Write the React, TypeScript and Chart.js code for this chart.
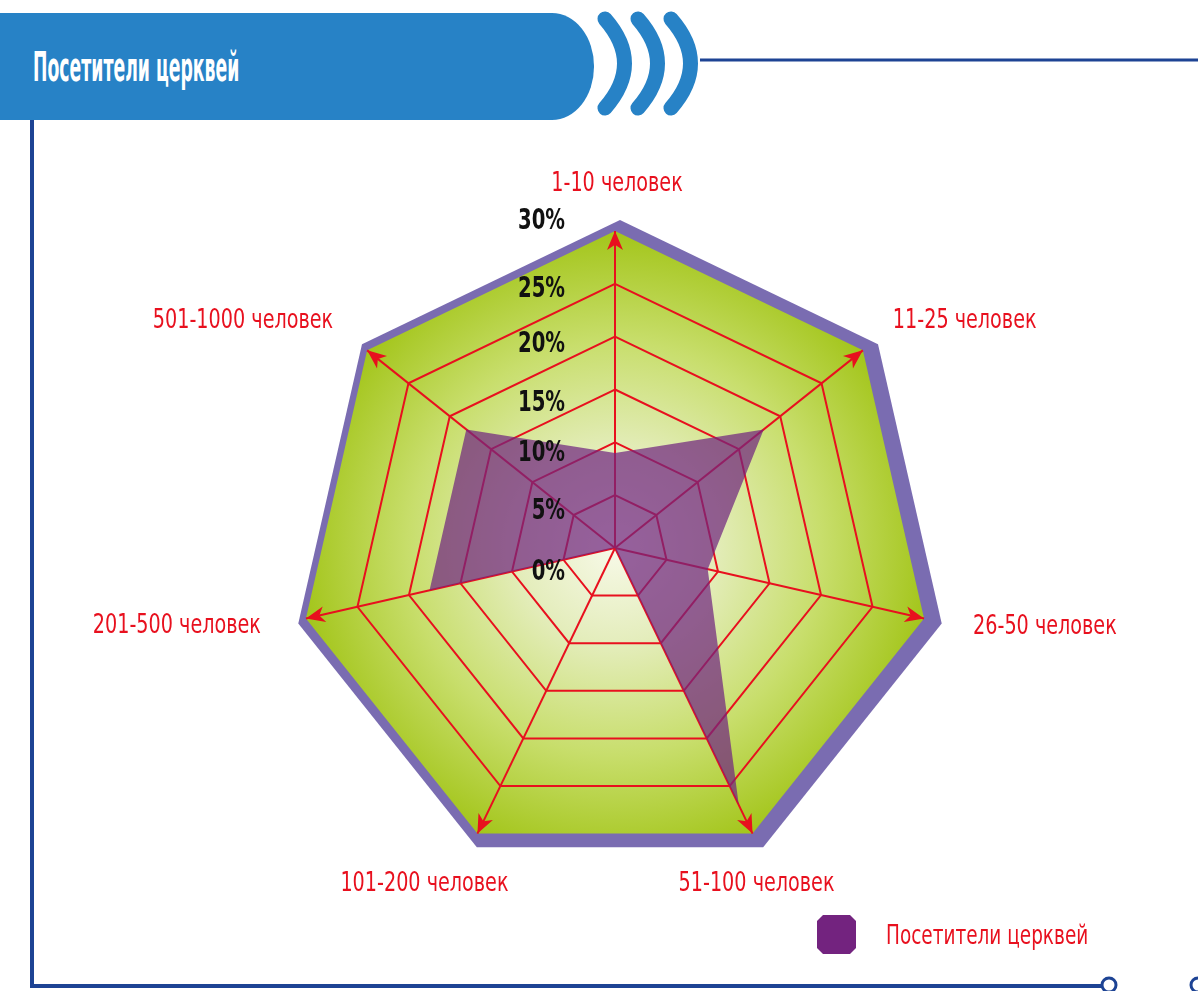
import React, { useEffect, useRef } from "react";
import { Chart, registerables } from "chart.js";

Chart.register(...registerables);

// ---- data ----
const TITLE = "Посетители церквей";
const SERIES_NAME = "Посетители церквей";
const CATEGORIES = [
  "1-10 человек",
  "11-25 человек",
  "26-50 человек",
  "51-100 человек",
  "101-200 человек",
  "201-500 человек",
  "501-1000 человек",
];
const VISITORS = [9, 18, 9, 27, 0, 18, 18];
const TICK_VALUES = [0, 5, 10, 15, 20, 25, 30];
const TICK_LABELS = ["0%", "5%", "10%", "15%", "20%", "25%", "30%"];

// ---- layout / style constants ----
const W = 1198;
const H = 991;
const RED = "#e8101e";
const NARROW = "'Liberation Sans Narrow', 'DejaVu Sans Condensed', sans-serif";
const SQUEEZE = 0.79;
// label placement relative to each axis tip
const LABEL_LAYOUT: { align: CanvasTextAlign; dx: number; dy: number }[] = [
  { align: "center", dx: 2, dy: -47 },
  { align: "left", dx: 30, dy: -29 },
  { align: "left", dx: 49, dy: 8 },
  { align: "center", dx: 4, dy: 50 },
  { align: "center", dx: -53, dy: 50 },
  { align: "right", dx: -45, dy: 7 },
  { align: "right", dx: -34, dy: -29 },
];
const TICK_DY = [25, 17, 11, 14, 8, 6, -9];

function heptagon(ctx: CanvasRenderingContext2D, scale: any, r: number, ox = 0, oy = 0) {
  ctx.beginPath();
  for (let i = 0; i < CATEGORIES.length; i++) {
    const p = scale.getPointPosition(i, r);
    if (i === 0) ctx.moveTo(p.x + ox, p.y + oy);
    else ctx.lineTo(p.x + ox, p.y + oy);
  }
  ctx.closePath();
}

function squeezedText(ctx: CanvasRenderingContext2D, text: string, x: number, y: number, sx: number) {
  ctx.save();
  ctx.translate(x, y);
  ctx.scale(sx, 1);
  ctx.fillText(text, 0, 0);
  ctx.restore();
}

const decorPlugin = {
  id: "radarDecor",
  beforeDraw(chart: any) {
    const scale = chart.scales.r;
    const ctx: CanvasRenderingContext2D = chart.ctx;
    const R = scale.getDistanceFromCenterForValue(30);
    const cx = scale.xCenter;
    const cy = scale.yCenter;
    ctx.save();
    heptagon(ctx, scale, R + 13, 5, 2);
    ctx.fillStyle = "#7a6cb1";
    ctx.fill();
    const g = ctx.createRadialGradient(cx, cy, 0, cx, cy, R);
    g.addColorStop(0, "#f7f9e8");
    g.addColorStop(0.3, "#e4edbc");
    g.addColorStop(0.65, "#c8de6c");
    g.addColorStop(1, "#a3c51a");
    heptagon(ctx, scale, R);
    ctx.fillStyle = g;
    ctx.fill();
    ctx.restore();
  },
  beforeDatasetsDraw(chart: any) {
    const scale = chart.scales.r;
    const ctx: CanvasRenderingContext2D = chart.ctx;
    const R = scale.getDistanceFromCenterForValue(30);
    const cx = scale.xCenter;
    const cy = scale.yCenter;
    ctx.save();
    ctx.fillStyle = RED;
    for (let i = 0; i < CATEGORIES.length; i++) {
      const t = scale.getPointPosition(i, R);
      const ux = (t.x - cx) / R;
      const uy = (t.y - cy) / R;
      const nx = -uy;
      const ny = ux;
      const L = 19;
      const w = 8;
      ctx.beginPath();
      ctx.moveTo(t.x, t.y);
      ctx.lineTo(t.x - ux * L + nx * w, t.y - uy * L + ny * w);
      ctx.lineTo(t.x - ux * L * 0.72, t.y - uy * L * 0.72);
      ctx.lineTo(t.x - ux * L - nx * w, t.y - uy * L - ny * w);
      ctx.closePath();
      ctx.fill();
    }
    ctx.restore();
  },
  afterDatasetsDraw(chart: any) {
    const scale = chart.scales.r;
    const ctx: CanvasRenderingContext2D = chart.ctx;
    const R = scale.getDistanceFromCenterForValue(30);
    const cx = scale.xCenter;
    ctx.save();
    ctx.fillStyle = "#111111";
    ctx.font = `bold 28px ${NARROW}`;
    ctx.textAlign = "right";
    ctx.textBaseline = "middle";
    TICK_VALUES.forEach((v, k) => {
      const p = scale.getPointPosition(0, scale.getDistanceFromCenterForValue(v));
      squeezedText(ctx, TICK_LABELS[k], cx - 50, p.y + TICK_DY[k], 0.78);
    });
    ctx.fillStyle = RED;
    ctx.font = `27px ${NARROW}`;
    CATEGORIES.forEach((c, i) => {
      const t = scale.getPointPosition(i, R);
      const l = LABEL_LAYOUT[i];
      ctx.textAlign = l.align;
      squeezedText(ctx, c, t.x + l.dx, t.y + l.dy, SQUEEZE);
    });
    ctx.restore();
  },
};

function RadarCanvas() {
  const ref = useRef<HTMLCanvasElement | null>(null);
  useEffect(() => {
    if (!ref.current) return;
    const chart = new Chart(ref.current, {
      type: "radar",
      data: {
        labels: CATEGORIES,
        datasets: [
          {
            label: SERIES_NAME,
            data: VISITORS,
            backgroundColor: "rgba(112, 38, 128, 0.72)",
            borderWidth: 0,
            pointRadius: 0,
            pointHoverRadius: 0,
            fill: true,
            tension: 0,
          },
        ],
      },
      options: {
        animation: false,
        responsive: false,
        devicePixelRatio: 1,
        layout: { padding: { left: 298, top: 231, right: 266, bottom: 126 } },
        plugins: { legend: { display: false }, tooltip: { enabled: false } },
        scales: {
          r: {
            min: 0,
            max: 30,
            beginAtZero: true,
            ticks: { stepSize: 5, display: false },
            pointLabels: { display: false },
            grid: {
              color: (c: any) => (c.tick && c.tick.value >= 30 ? "rgba(0,0,0,0)" : RED),
              lineWidth: 2,
            },
            angleLines: { color: RED, lineWidth: 2 },
          },
        },
      },
      plugins: [decorPlugin],
    } as any);
    return () => chart.destroy();
  }, []);
  return (
    <canvas
      ref={ref}
      width={W}
      height={H}
      style={{ position: "absolute", left: 0, top: 0, width: W, height: H }}
    />
  );
}

export default function App() {
  const arcs = [0, 33, 66];
  return (
    <div
      style={{
        position: "absolute",
        left: 0,
        top: 0,
        width: W,
        height: H,
        overflow: "hidden",
        background: "#ffffff",
      }}
    >
      <svg width={W} height={H} style={{ position: "absolute", left: 0, top: 0 }}>
        {arcs.map((d) => (
          <path
            key={d}
            d={`M ${605 + d} 19 Q ${644 + d} 63.5 ${605 + d} 108`}
            fill="none"
            stroke="#2782c6"
            strokeWidth={15}
            strokeLinecap="round"
          />
        ))}
        <line x1={700} y1={60} x2={W} y2={60} stroke="#1d4394" strokeWidth={3} />
        <line x1={32} y1={118} x2={32} y2={986} stroke="#1d4394" strokeWidth={4} />
        <line x1={30} y1={986} x2={1102} y2={986} stroke="#1d4394" strokeWidth={4} />
        <circle cx={1109} cy={985} r={7} fill="#ffffff" stroke="#1d4394" strokeWidth={3} />
        <circle cx={1198} cy={985} r={7} fill="#ffffff" stroke="#1d4394" strokeWidth={3} />
      </svg>
      <div
        style={{
          position: "absolute",
          left: 0,
          top: 13,
          width: 594,
          height: 107,
          background: "#2782c6",
          borderRadius: "0 42px 42px 0 / 0 53px 53px 0",
        }}
      />
      <div
        style={{
          position: "absolute",
          left: 33,
          top: 42,
          height: 50,
          lineHeight: "50px",
          color: "#ffffff",
          fontFamily: NARROW,
          fontWeight: "bold",
          fontSize: 40,
          whiteSpace: "nowrap",
          transform: "scaleX(0.48)",
          transformOrigin: "left center",
        }}
      >
        {TITLE}
      </div>
      <RadarCanvas />
      <div
        style={{
          position: "absolute",
          left: 817,
          top: 915,
          width: 39,
          height: 39,
          background: "#73237f",
          clipPath:
            "polygon(6px 0, 33px 0, 39px 6px, 39px 33px, 33px 39px, 6px 39px, 0 33px, 0 6px)",
        }}
      />
      <div
        style={{
          position: "absolute",
          left: 886,
          top: 916,
          height: 38,
          lineHeight: "38px",
          color: RED,
          fontFamily: NARROW,
          fontSize: 27,
          whiteSpace: "nowrap",
          transform: "scaleX(0.76)",
          transformOrigin: "left center",
        }}
      >
        {SERIES_NAME}
      </div>
    </div>
  );
}
